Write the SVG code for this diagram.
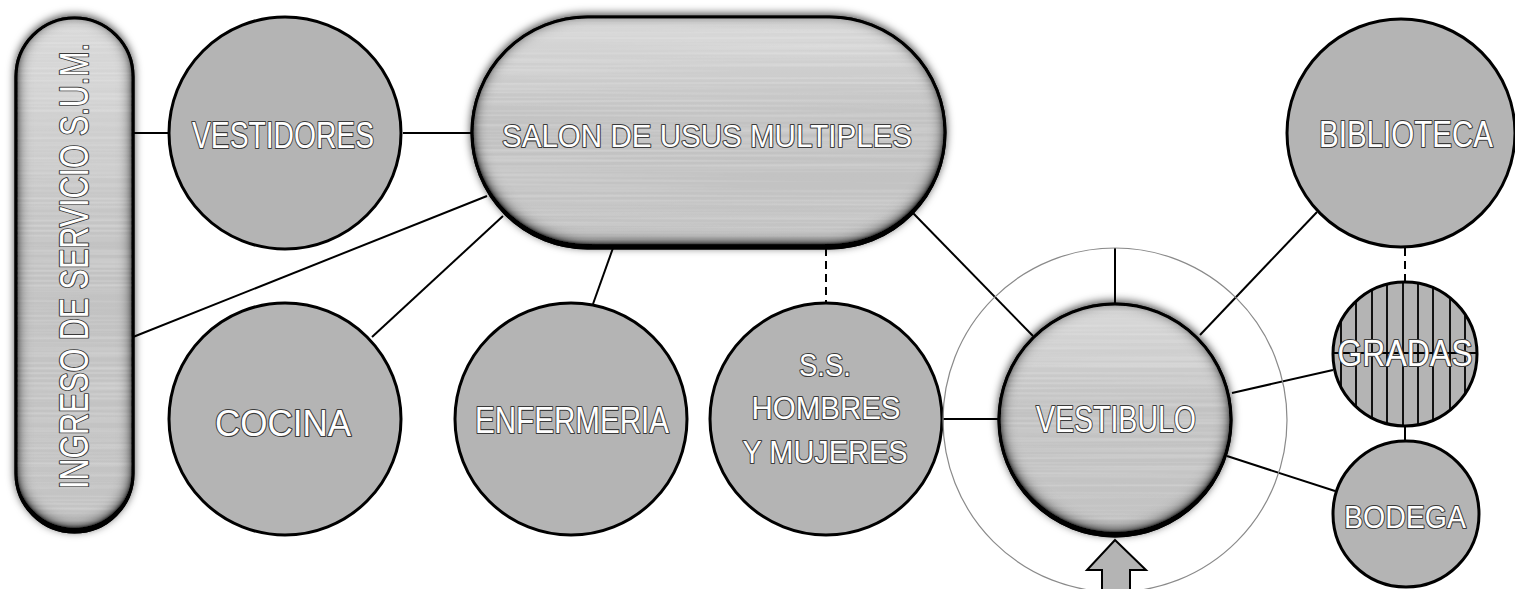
<svg xmlns="http://www.w3.org/2000/svg" width="1515" height="589" viewBox="0 0 1515 589">
<style>
.conn{stroke:#000;stroke-width:2;fill:none}
.dash{stroke-dasharray:8 5}
.plain{fill:#b4b4b4;stroke:#000;stroke-width:3}
.gloss{fill:url(#metal);stroke:#000;stroke-width:3}
.lbl{font-family:"Liberation Sans",Arial,sans-serif;fill:#fff;stroke:#3a3a3a;stroke-width:2.2;paint-order:stroke;stroke-linejoin:round;text-anchor:middle}
.hatch{stroke:#000;stroke-width:1.8}
</style>
<defs>
<linearGradient id="metal" x1="0" y1="0" x2="0" y2="1">
<stop offset="0" stop-color="#dadada"/>
<stop offset="0.45" stop-color="#c2c2c2"/>
<stop offset="1" stop-color="#c4c4c4"/>
</linearGradient>
<filter id="bevel" x="-15%" y="-15%" width="130%" height="130%">
<feGaussianBlur in="SourceAlpha" stdDeviation="4" result="ob"/>
<feOffset in="ob" dy="-2" result="obo"/>
<feColorMatrix in="obo" type="matrix" values="0 0 0 0 0 0 0 0 0 0 0 0 0 0 0 0 0 0 0.7 0" result="outer"/>
<feTurbulence type="fractalNoise" baseFrequency="0.003 0.4" numOctaves="1" seed="4" result="noise"/>
<feColorMatrix in="noise" type="matrix" values="0 0 0 0 1 0 0 0 0 1 0 0 0 0 1 0 0 0.5 0 -0.2" result="streaks"/>
<feMorphology in="SourceAlpha" operator="erode" radius="3" result="core"/>
<feComposite in="streaks" in2="core" operator="in" result="tex"/>
<feFlood flood-color="#000" result="black"/>
<feComposite in="black" in2="SourceAlpha" operator="out" result="inv"/>
<feGaussianBlur in="inv" stdDeviation="8" result="ib"/>
<feOffset in="ib" dy="-4" result="ibo"/>
<feColorMatrix in="ibo" type="matrix" values="0 0 0 0 0 0 0 0 0 0 0 0 0 0 0 0 0 0 2.2 0" result="ibs"/>
<feComposite in="ibs" in2="SourceAlpha" operator="in" result="inner"/>
<feMerge><feMergeNode in="outer"/><feMergeNode in="SourceGraphic"/><feMergeNode in="tex"/><feMergeNode in="inner"/></feMerge>
</filter>
<clipPath id="gradClip"><circle cx="1405" cy="354" r="72"/></clipPath>
</defs>
<rect width="1515" height="589" fill="#fff"/>

<g id="connectors">
<line class="conn" x1="133" y1="133" x2="168" y2="133"/>
<line class="conn" x1="403" y1="133" x2="472" y2="133"/>
<line class="conn" x1="133" y1="337" x2="487" y2="196"/>
<line class="conn" x1="372" y1="337" x2="503" y2="216"/>
<line class="conn" x1="613" y1="248" x2="593" y2="304"/>
<line class="conn dash" x1="826" y1="248" x2="826" y2="303"/>
<line class="conn" x1="913" y1="213" x2="1033" y2="336"/>
<line class="conn" x1="943" y1="419" x2="999" y2="419"/>
<line class="conn" x1="1115" y1="248" x2="1115" y2="305"/>
<line class="conn" x1="1200" y1="335" x2="1317" y2="212"/>
<line class="conn" x1="1232" y1="393" x2="1333" y2="370"/>
<line class="conn" x1="1227" y1="456" x2="1335" y2="491"/>
<line class="conn dash" x1="1405" y1="248" x2="1405" y2="283"/>
<line class="conn" x1="1405" y1="425" x2="1405" y2="443"/>
</g>

<g id="ingreso">
<rect class="gloss" x="16" y="18" width="117" height="514" rx="58.5" filter="url(#bevel)"/>
<text class="lbl" transform="translate(88,266) rotate(-90)" font-size="40" textLength="446" lengthAdjust="spacingAndGlyphs">INGRESO DE SERVICIO S.U.M.</text>
</g>

<g id="vestidores">
<circle class="plain" cx="285" cy="133" r="116"/>
<text class="lbl" x="283" y="148" font-size="36" textLength="182" lengthAdjust="spacingAndGlyphs">VESTIDORES</text>
</g>

<g id="salon">
<rect class="gloss" x="472" y="17" width="473" height="231" rx="115.5" filter="url(#bevel)"/>
<text class="lbl" x="707" y="147" font-size="32" textLength="410" lengthAdjust="spacingAndGlyphs">SALON DE USUS MULTIPLES</text>
</g>

<g id="cocina">
<circle class="plain" cx="285" cy="419" r="116"/>
<text class="lbl" x="283" y="436" font-size="36" textLength="136" lengthAdjust="spacingAndGlyphs">COCINA</text>
</g>

<g id="enfermeria">
<circle class="plain" cx="571" cy="419" r="116"/>
<text class="lbl" x="572" y="433" font-size="36" textLength="194" lengthAdjust="spacingAndGlyphs">ENFERMERIA</text>
</g>

<g id="ss">
<circle class="plain" cx="826" cy="419" r="116"/>
<text class="lbl" x="825" y="376" font-size="32" textLength="52" lengthAdjust="spacingAndGlyphs">S.S.</text>
<text class="lbl" x="826" y="419" font-size="32" textLength="149" lengthAdjust="spacingAndGlyphs">HOMBRES</text>
<text class="lbl" x="825" y="463" font-size="32" textLength="165" lengthAdjust="spacingAndGlyphs">Y MUJERES</text>
</g>

<g id="vestibulo">
<circle cx="1115" cy="420" r="172" fill="none" stroke="#8a8a8a" stroke-width="1.2"/>
<circle class="gloss" cx="1115" cy="420" r="116" filter="url(#bevel)"/>
<text class="lbl" x="1116" y="432" font-size="36" textLength="160" lengthAdjust="spacingAndGlyphs">VESTIBULO</text>
</g>

<g id="entrada">
<path d="M1115 540 L1146 570 L1130 570 L1130 592 L1102 592 L1102 570 L1087 570 Z" fill="#b4b4b4" stroke="#000" stroke-width="2" stroke-linejoin="miter"/>
</g>

<g id="biblioteca">
<circle class="plain" cx="1401" cy="133" r="114"/>
<text class="lbl" x="1406" y="147" font-size="36" textLength="174" lengthAdjust="spacingAndGlyphs">BIBLIOTECA</text>
</g>

<g id="gradas">
<circle cx="1405" cy="354" r="72" fill="#b4b4b4"/>
<g clip-path="url(#gradClip)">
<line class="hatch" x1="1341" y1="270" x2="1341" y2="440"/>
<line class="hatch" x1="1356" y1="270" x2="1356" y2="440"/>
<line class="hatch" x1="1372" y1="270" x2="1372" y2="440"/>
<line class="hatch" x1="1387" y1="270" x2="1387" y2="440"/>
<line class="hatch" x1="1403" y1="270" x2="1403" y2="440"/>
<line class="hatch" x1="1418" y1="270" x2="1418" y2="440"/>
<line class="hatch" x1="1433" y1="270" x2="1433" y2="440"/>
<line class="hatch" x1="1450" y1="270" x2="1450" y2="440"/>
<line class="hatch" x1="1465" y1="270" x2="1465" y2="440"/>
</g>
<line class="hatch" x1="1333" y1="353" x2="1477" y2="353"/>
<circle cx="1405" cy="354" r="72" fill="none" stroke="#000" stroke-width="3"/>
<text class="lbl" x="1405" y="366" font-size="36" textLength="135" lengthAdjust="spacingAndGlyphs">GRADAS</text>
</g>

<g id="bodega">
<circle class="plain" cx="1406" cy="514" r="73"/>
<text class="lbl" x="1405" y="528" font-size="32" textLength="122" lengthAdjust="spacingAndGlyphs">BODEGA</text>
</g>
</svg>
